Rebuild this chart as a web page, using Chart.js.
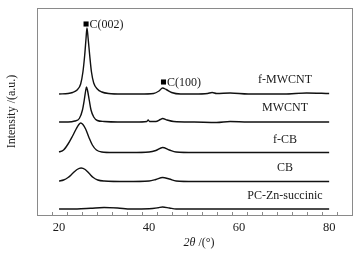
<!DOCTYPE html>
<html><head><meta charset="utf-8">
<script src="https://cdn.jsdelivr.net/npm/chart.js@4.4.0/dist/chart.umd.min.js"></script>
<style>html,body{margin:0;padding:0;background:#fff}#wrap{width:361px;height:257px;position:relative}</style>
</head><body><div id="wrap"><canvas id="c"></canvas></div>
<script>
// ---- data (2θ in degrees, stacked intensity in arbitrary units) ----
const seriesNames = ['f-MWCNT', 'MWCNT', 'f-CB', 'CB', 'PC-Zn-succinic'];
const xTickValues = [20, 40, 60, 80];

const fmwcntX = [20,22,23,24,24.8,25.3,25.7,26.0,26.2,26.45,26.8,27.2,27.7,28.5,29.5,31,34,38,41,42.2,43,43.8,45,47,50,53,54,55,58,62,70,75,80];
const fmwcntY = [121,121.5,122.5,125,131,143,160,177,187,177,160,143,132,126,123,121.5,121,121,121.5,124,127,125.5,122.5,121,121,121.5,122.5,121.5,122,121,121,122,121.5];

const mwcntX = [20,22,23.5,24.5,25.2,25.6,25.9,26.1,26.35,26.7,27.1,27.7,28.5,30,33,37,39.5,39.8,40.1,41.5,42.5,43,44,45.5,50,55,58,62,70,80];
const mwcntY = [93,93,94,96.5,105,115,124,128,124,115,105,98,94.5,93.5,93,93,93.5,95,93.5,93.5,95.5,96.5,95,93.5,93,92.5,93.5,93,93,93];

const fcbX = [20,21,22,23,23.8,24.4,24.8,25.3,25.9,26.6,27.4,28.3,29.5,32,36,40,41.5,43,44.5,46,50,60,70,80];
const fcbY = [63,65,71,79,86,90.5,92,90.5,86,78,70,65,63,62.5,62.5,63,64.5,67.5,65,63,62.5,62.5,62.5,62.5];

const cbX = [20,21,22,23,24,24.9,25.8,26.7,27.6,28.6,30,35,40,41.5,43,44.5,46,50,60,70,80];
const cbY = [34,35,37.5,41.5,45.5,47,45.5,41.5,37.5,35,34,33.5,34,35.5,37.5,36,34,33.5,33.5,33.5,33.5];

const pcX = [20,24,27,30,33,36,40,42,43,44.5,46,60,80];
const pcY = [6,6,6.7,7.5,7,6,6.2,7.2,8,7,6,6,6];

// peak markers
const peakNames = ['C(002)', 'C(100)'];
const peakX = [26.0, 43.2];
const peakY = [191, 133];

// series label anchors (data coordinates)
const labelX = [70.2, 70.2, 70.2, 70.2, 70.2];
const labelY = [135, 107, 75, 47, 19];

const allX = [fmwcntX, mwcntX, fcbX, cbX, pcX];
const allY = [fmwcntY, mwcntY, fcbY, cbY, pcY];

const SERIF = '"Liberation Serif", "Times New Roman", serif';

const datasets = allX.map((xs, i) => ({
  label: seriesNames[i],
  data: xs.map((x, j) => ({x: x, y: allY[i][j]})),
  borderColor: '#111',
  borderWidth: 1.4,
  pointRadius: 0,
  fill: false,
  cubicInterpolationMode: 'monotone'
}));
datasets.push({
  type: 'scatter',
  label: 'peaks',
  data: peakX.map((x, j) => ({x: x, y: peakY[j]})),
  pointStyle: 'rect',
  pointRadius: 3.6,
  backgroundColor: '#000',
  borderColor: '#000',
  borderWidth: 0
});

const overlay = {
  id: 'overlay',
  afterDraw(chart) {
    const {ctx, chartArea: a, scales: {x, y}} = chart;
    ctx.save();
    // frame
    ctx.strokeStyle = '#8a8a8a';
    ctx.lineWidth = 1;
    ctx.strokeRect(a.left + 0.5, a.top + 0.5, a.right - a.left - 1, a.bottom - a.top);
    // inward ticks on the x axis
    ctx.beginPath();
    for (let k = 0; k <= 21; k++) {
      const v = 15 + k * 10 / 3;
      const v2 = Math.round(v * 1000) / 1000;
      if (v2 < x.min || v2 > x.max) continue;
      const px = Math.round(x.getPixelForValue(v2)) + 0.5;
      const major = xTickValues.some(t => Math.abs(t - v2) < 0.01);
      ctx.moveTo(px, a.bottom);
      ctx.lineTo(px, a.bottom - (major ? 5 : 3));
    }
    ctx.stroke();
    // series labels
    ctx.fillStyle = '#1a1a1a';
    ctx.font = '12px ' + SERIF;
    ctx.textAlign = 'center';
    ctx.textBaseline = 'middle';
    seriesNames.forEach((n, i) => {
      ctx.fillText(n, x.getPixelForValue(labelX[i]), y.getPixelForValue(labelY[i]));
    });
    // peak labels
    ctx.textAlign = 'left';
    peakNames.forEach((n, i) => {
      ctx.fillText(n, x.getPixelForValue(peakX[i]) + 3.5, y.getPixelForValue(peakY[i]) + 0.5);
    });
    // x axis title: italic 2θ, upright /(°)
    const t1 = '2θ', t2 = ' /(°)';
    ctx.font = 'italic 12px ' + SERIF;
    const w1 = ctx.measureText(t1).width;
    ctx.font = '12px ' + SERIF;
    const w2 = ctx.measureText(t2).width;
    const cx = (a.left + a.right) / 2 + 4;
    const x0 = cx - (w1 + w2) / 2;
    const ty = 243;
    ctx.font = 'italic 12px ' + SERIF;
    ctx.fillText(t1, x0, ty);
    ctx.font = '12px ' + SERIF;
    ctx.fillText(t2, x0 + w1, ty);
    ctx.restore();
  }
};

new Chart(document.getElementById('c'), {
  type: 'line',
  data: {datasets: datasets},
  options: {
    responsive: true,
    maintainAspectRatio: false,
    animation: false,
    layout: {padding: {top: 8, right: 8, left: 0, bottom: 0}},
    plugins: {legend: {display: false}, tooltip: {enabled: false}},
    scales: {
      x: {
        type: 'linear',
        min: 15.1,
        max: 85.3,
        afterFit(s) { s.height = 42; },
        afterBuildTicks(s) { s.ticks = xTickValues.map(v => ({value: v})); },
        grid: {display: false, drawTicks: false},
        border: {display: false},
        ticks: {
          padding: 5,
          color: '#1a1a1a',
          font: {family: SERIF, size: 12.5},
          maxRotation: 0,
          callback: v => String(v)
        },
        title: {display: false}
      },
      y: {
        type: 'linear',
        min: 0,
        max: 207,
        afterFit(s) { s.width = 37; },
        grid: {display: false, drawTicks: false},
        border: {display: false},
        ticks: {display: false},
        title: {
          display: true,
          text: 'Intensity /(a.u.)',
          color: '#1a1a1a',
          font: {family: SERIF, size: 12},
          padding: {top: 5, bottom: 0}
        }
      }
    }
  },
  plugins: [overlay]
});
</script>
</body></html>
